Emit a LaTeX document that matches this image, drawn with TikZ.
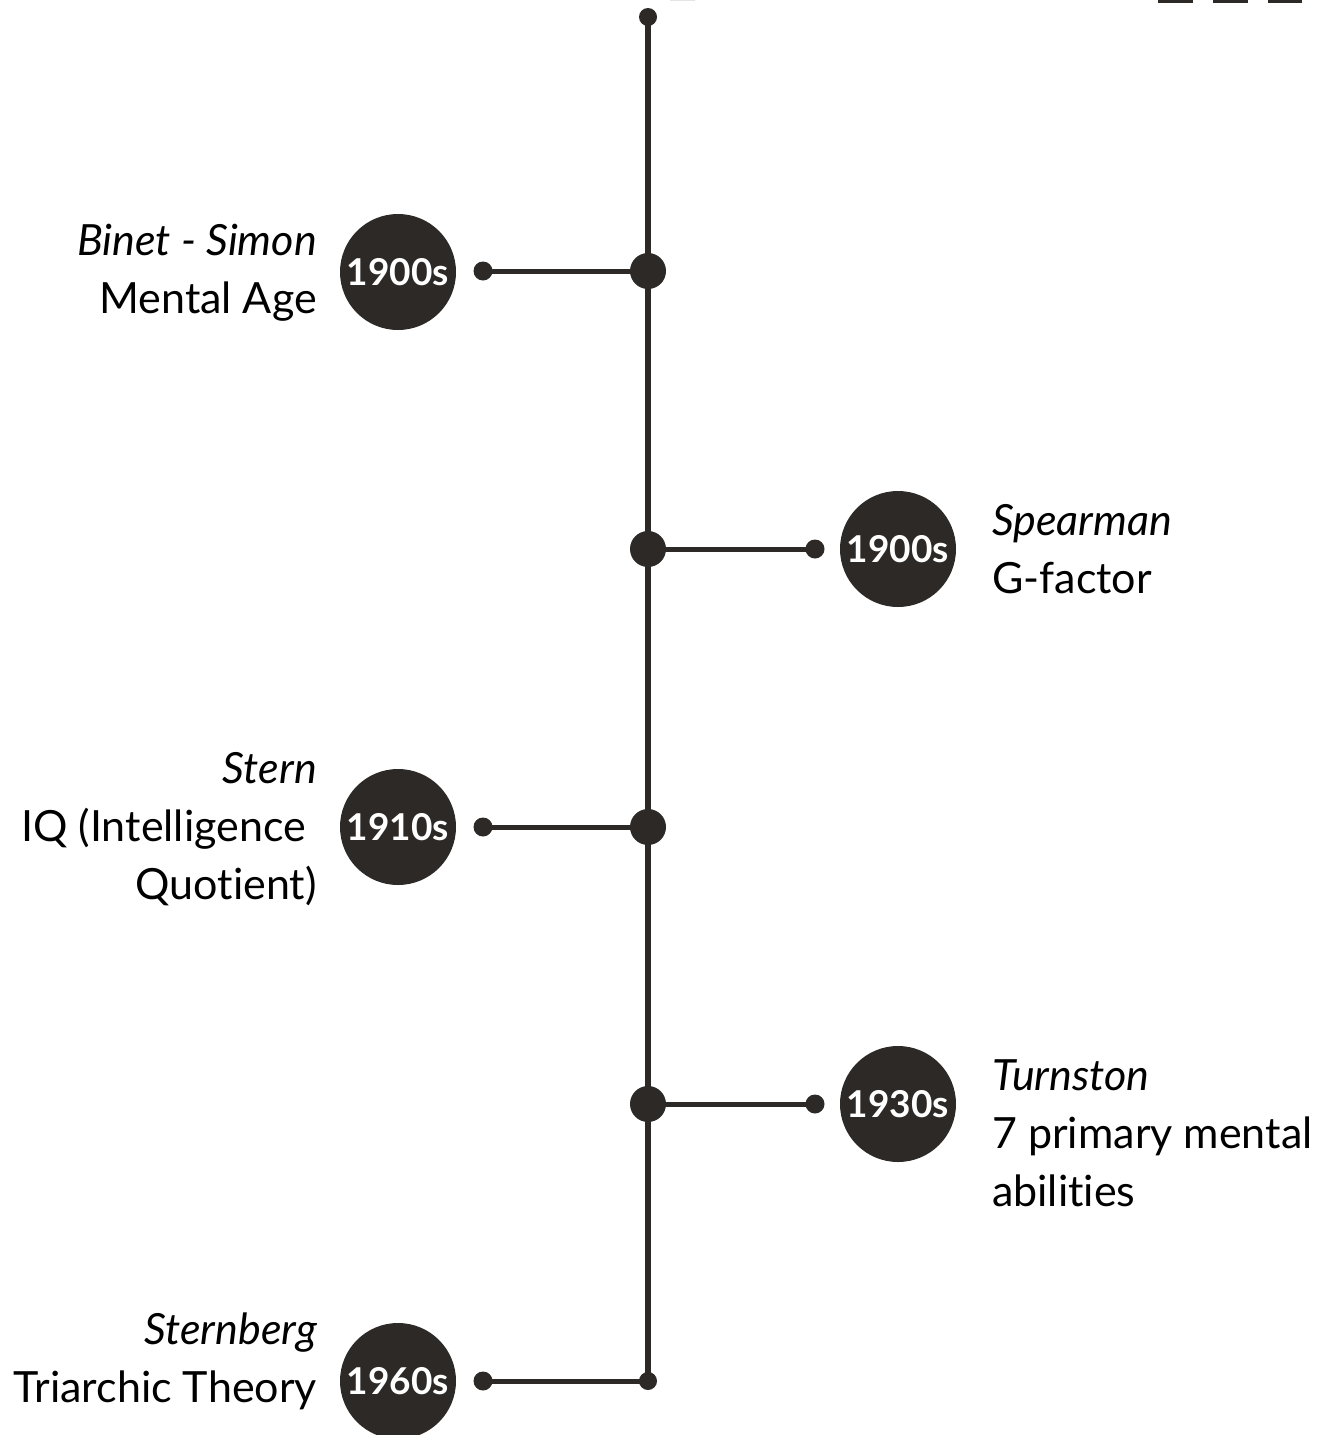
\documentclass[tikz,border=0pt]{standalone}
\usepackage{fontspec}
\setmainfont{Lato}[Ligatures=NoCommon]
\definecolor{ink}{RGB}{45,41,38}
\begin{document}
\begin{tikzpicture}[x=1pt,y=-1pt,
  spine/.style={draw=ink,line width=6pt},
  branch/.style={draw=ink,line width=5pt},
  bigdot/.style={circle,fill=ink,minimum size=36pt,inner sep=0pt},
  enddot/.style={circle,fill=ink,minimum size=19pt,inner sep=0pt},
  smalldot/.style={circle,fill=ink,minimum size=18pt,inner sep=0pt},
  year/.style={circle,fill=ink,minimum size=116pt,inner sep=0pt,text=white,font=\fontsize{37}{42}\bfseries\selectfont},
  ltext/.style={anchor=base east,align=right,font=\fontsize{43}{58}\selectfont,inner sep=0pt},
  rtext/.style={anchor=base west,align=left,font=\fontsize{43}{58}\selectfont,inner sep=0pt}]
\useasboundingbox (0,0) rectangle (1323,1435);
% cut-off title fragments
\fill[ink] (1158,0) rectangle (1193,3);
\fill[ink] (1213,0) rectangle (1248,3);
\fill[ink] (1268,0) rectangle (1302,3);
\fill[ink] (670,0) -- (695,0) arc[start angle=0,end angle=-180,x radius=12.5,y radius=2.5] -- cycle;
% spine
\node[smalldot] (top) at (648,17) {};
\node[smalldot] (bot) at (648,1381) {};
\node[bigdot] (j1) at (648,271) {};
\node[bigdot] (j2) at (648,549) {};
\node[bigdot] (j3) at (648,827) {};
\node[bigdot] (j4) at (648,1104) {};
\draw[spine] (top.center) -- (bot.center);
% branch ends
\node[enddot] (e1) at (483,271) {};
\node[enddot] (e2) at (815,549) {};
\node[enddot] (e3) at (483,827) {};
\node[enddot] (e4) at (815,1104) {};
\node[enddot] (e5) at (483,1381) {};
\draw[branch] (e1.center) -- (j1.center);
\draw[branch] (j2.center) -- (e2.center);
\draw[branch] (e3.center) -- (j3.center);
\draw[branch] (j4.center) -- (e4.center);
\draw[branch] (e5.center) -- (bot.center);
% year circles
\node[year] (y1) at (398,272) {1900s};
\node[year] (y2) at (898,549) {1900s};
\node[year] (y3) at (398,827) {1910s};
\node[year] (y4) at (898,1104) {1930s};
\node[year] (y5) at (398,1381) {1960s};
% texts (base anchor = last line baseline)
\node[ltext] (t1) at (317,313) {\itshape Binet - Simon\\Mental Age};
\node[rtext] (t2) at (992,593) {\itshape Spearman\\G-factor};
\node[ltext] (t3) at (317,899) {\itshape Stern\\IQ (Intelligence\kern11pt\rule{0pt}{0pt}\\Quotient)};
\node[rtext] (t4) at (992,1206) {\itshape Turnston\\7 primary mental\\abilities};
\node[ltext] (t5) at (317,1402) {\itshape Sternberg\\Triarchic Theory};
\end{tikzpicture}
\end{document}
